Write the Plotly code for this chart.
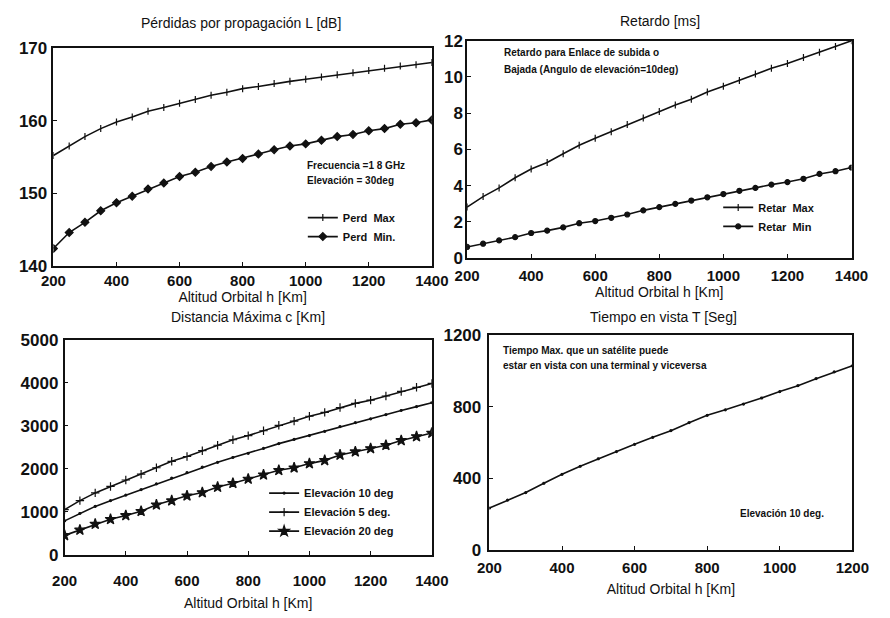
import plotly.graph_objects as go

# Altitud orbital (km)
h_full = [200, 250, 300, 350, 400, 450, 500, 550, 600, 650, 700, 750, 800,
          850, 900, 950, 1000, 1050, 1100, 1150, 1200, 1250, 1300, 1350, 1400]
h_short = [200, 250, 300, 350, 400, 450, 500, 550, 600, 650, 700, 750, 800,
           850, 900, 950, 1000, 1050, 1100, 1150, 1200]

# Pérdidas por propagación L [dB]
perd_max = [155.2, 156.5, 157.8, 158.9, 159.8, 160.5, 161.3, 161.8, 162.4, 162.9,
            163.5, 163.9, 164.4, 164.7, 165.1, 165.4, 165.7, 166.0, 166.3, 166.6,
            166.9, 167.2, 167.5, 167.7, 168.0]
perd_min = [142.4, 144.6, 146.0, 147.6, 148.7, 149.6, 150.6, 151.4, 152.3, 152.9,
            153.7, 154.3, 154.8, 155.4, 156.0, 156.5, 156.8, 157.3, 157.8, 158.1,
            158.6, 158.9, 159.5, 159.7, 160.1]

# Retardo [ms]
retar_max = [2.82, 3.40, 3.88, 4.44, 4.92, 5.28, 5.76, 6.23, 6.62, 6.98, 7.38, 7.73,
             8.09, 8.45, 8.77, 9.17, 9.49, 9.81, 10.17, 10.48, 10.75, 11.07, 11.37,
             11.68, 12.0]
retar_min = [0.62, 0.80, 0.98, 1.16, 1.39, 1.52, 1.70, 1.93, 2.05, 2.23, 2.41, 2.64,
             2.82, 3.00, 3.18, 3.36, 3.54, 3.72, 3.88, 4.06, 4.20, 4.38, 4.65, 4.80,
             5.00]

# Distancia máxima c [km]
dist_el5 = [1048, 1257, 1437, 1587, 1737, 1871, 2021, 2171, 2283, 2418, 2545, 2672,
            2769, 2882, 3009, 3106, 3219, 3308, 3421, 3518, 3593, 3690, 3795, 3892, 3982]
dist_el10 = [786, 958, 1123, 1257, 1385, 1512, 1647, 1781, 1909, 2036, 2148, 2260,
             2358, 2470, 2582, 2680, 2769, 2867, 2979, 3069, 3159, 3256, 3353, 3443, 3533]
dist_el20 = [449, 576, 711, 823, 913, 1010, 1160, 1257, 1370, 1445, 1572, 1662,
             1760, 1857, 1962, 2021, 2118, 2193, 2320, 2395, 2470, 2545, 2657, 2747, 2829]

# Tiempo en vista T [s]
t_vista = [234, 279, 321, 373, 423, 468, 510, 550, 591, 630, 667, 712, 753,
           784, 816, 850, 886, 919, 958, 996, 1030]

FONT = "Liberation Sans"
INK = "#111111"

fig = go.Figure()

def line_trace(x, y, name, axis, legend, symbol, size, showlegend=True):
    return go.Scatter(
        x=x, y=y, name=name, mode="lines+markers",
        xaxis="x" + axis, yaxis="y" + axis, legend=legend, showlegend=showlegend,
        line=dict(color=INK, width=1.6),
        marker=dict(symbol=symbol, size=size, color=INK,
                    line=dict(color=INK, width=1.2)),
    )

fig.add_trace(line_trace(h_full, perd_max, "Perd  Max", "", "legend", "line-ns", 5))
fig.add_trace(line_trace(h_full, perd_min, "Perd  Min.", "", "legend", "diamond", 6))
fig.add_trace(line_trace(h_full, retar_max, "Retar  Max", "2", "legend2", "line-ns", 5))
fig.add_trace(line_trace(h_full, retar_min, "Retar  Min", "2", "legend2", "circle", 5))
fig.add_trace(line_trace(h_full, dist_el10, "Elevación 10 deg", "3", "legend3", "circle", 2))
fig.add_trace(line_trace(h_full, dist_el5, "Elevación 5 deg.", "3", "legend3", "cross-thin", 6))
fig.add_trace(line_trace(h_full, dist_el20, "Elevación 20 deg", "3", "legend3", "star", 8))
fig.add_trace(line_trace(h_short, t_vista, "Elevación 10 deg.", "4", "legend", "circle", 2,
                         showlegend=False))

xtickfont = dict(family=FONT, size=15, color=INK, weight="bold")
ytickfont = dict(family=FONT, size=17, color=INK, weight="bold")
titlefont = dict(family=FONT, size=14, color=INK)

def xaxis(dom, anchor, rng, label_gap, title_gap):
    return dict(domain=dom, anchor=anchor, range=rng, dtick=200, tick0=200,
                showgrid=False, zeroline=False, showline=True, mirror=True,
                linecolor=INK, linewidth=1.5, ticks="inside", ticklen=4,
                tickcolor=INK, tickfont=xtickfont, ticklabelstandoff=label_gap,
                title=dict(text="Altitud Orbital h [Km]", font=titlefont,
                           standoff=title_gap))

def yaxis(dom, anchor, rng, dtick, label_gap=1):
    return dict(domain=dom, anchor=anchor, range=rng, dtick=dtick,
                showgrid=False, zeroline=False, showline=True, mirror=True,
                linecolor=INK, linewidth=1.5, ticks="inside", ticklen=4,
                tickcolor=INK, tickfont=ytickfont, ticklabelstandoff=label_gap)

legend_common = dict(font=dict(family=FONT, size=11, color=INK, weight="bold"),
                     bgcolor="rgba(0,0,0,0)", borderwidth=0, xref="paper",
                     yref="paper", xanchor="left", yanchor="top",
                     itemwidth=30, tracegroupgap=2)

fig.update_layout(
    width=890, height=618,
    margin=dict(l=0, r=0, t=0, b=0),
    paper_bgcolor="white", plot_bgcolor="white",
    font=dict(family=FONT, color=INK),
    xaxis=xaxis([0.047, 0.487], "y", [200, 1400], 0, 2),
    yaxis=yaxis([0.571, 0.935], "x", [140, 170], 10),
    xaxis2=xaxis([0.528, 0.975], "y2", [200, 1400], 3, 0),
    yaxis2=yaxis([0.584, 0.947], "x2", [0, 12], 2, label_gap=-1),
    xaxis3=xaxis([0.060, 0.487], "y3", [200, 1400], 12, 10),
    yaxis3=yaxis([0.089, 0.448], "x3", [0, 5000], 1000),
    xaxis4=xaxis([0.554, 0.976], "y4", [200, 1200], 3, 10),
    yaxis4=yaxis([0.097, 0.455], "x4", [0, 1200], 400, label_gap=3),
    legend=dict(x=0.337, y=0.676, **legend_common),
    legend2=dict(x=0.820, y=0.693, **legend_common),
    legend3=dict(x=0.292, y=0.216, **legend_common),
)

small = dict(family=FONT, size=10, color=INK, weight="bold")
titles = [
    ("Pérdidas por propagación L [dB]", 0.265, 14),
    ("Retardo [ms]", 0.752, 12),
    ("Distancia Máxima c [Km]", 0.273, 318),
    ("Tiempo en vista T [Seg]", 0.756, 318),
]
for text, x, ypx in titles:
    fig.add_annotation(text=text, x=x, y=1 - ypx / 618, xref="paper", yref="paper",
                       xanchor="center", yanchor="middle", showarrow=False,
                       font=titlefont)

notes = [
    ("Frecuencia =1 8 GHz", 0.339, 161),
    ("Elevación = 30deg", 0.339, 177),
    ("Retardo para Enlace de subida o", 0.569, 45),
    ("Bajada (Angulo de elevación=10deg)", 0.569, 62),
    ("Tiempo Max. que un satélite puede", 0.567, 352),
    ("estar en vista con una terminal y viceversa", 0.567, 368),
    ("Elevación 10 deg.", 0.843, 521),
]
for text, x, ypx in notes:
    fig.add_annotation(text=text, x=x, y=1 - ypx / 618, xref="paper", yref="paper",
                       xanchor="left", yanchor="middle", showarrow=False, font=small)

fig.write_html("out.html")
